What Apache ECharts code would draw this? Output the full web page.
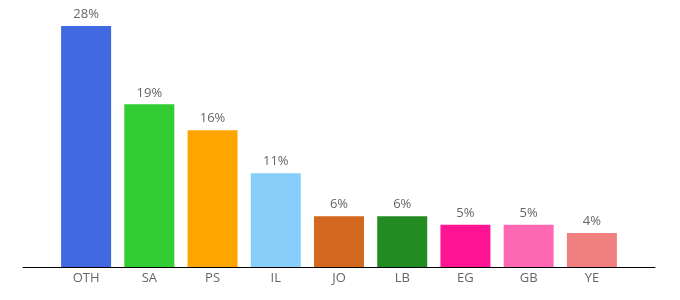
<!DOCTYPE html>
<html><head><meta charset="utf-8">
<script src="https://cdn.jsdelivr.net/npm/echarts@6/dist/echarts.min.js"></script>
<style>html,body{margin:0;padding:0;background:#fff}#c{width:680px;height:300px}</style>
</head><body><div id="c"></div>
<script>
var categories = ['OTH','SA','PS','IL','JO','LB','EG','GB','YE'];
var values = [28.0, 18.9, 15.9, 10.9, 5.9, 5.9, 4.9, 4.9, 3.95];
var colors = ['#4169E1','#32CD32','#FFA500','#87CEFA','#D2691E','#228B22','#FF1493','#FF69B4','#F08080'];

var chart = echarts.init(document.getElementById('c'), null, {renderer:'canvas'});
chart.setOption({
  animation:false,
  grid:[
    {left:54.5, right:56.5, top:26, bottom:33},
    {left:23, right:25, top:26, bottom:33}
  ],
  xAxis:[
    {type:'category', gridIndex:0, data:categories,
     axisLine:{show:false}, axisTick:{show:false},
     axisLabel:{color:'#666', fontFamily:'Open Sans', fontSize:13, margin:5}},
    {type:'value', gridIndex:1, min:0, max:1,
     axisLine:{show:true, lineStyle:{color:'#000', width:1}},
     axisTick:{show:false}, axisLabel:{show:false}, splitLine:{show:false}}
  ],
  yAxis:[
    {type:'value', gridIndex:0, min:0, max:28, show:false},
    {type:'value', gridIndex:1, min:0, max:1, show:false}
  ],
  series:[{
    type:'bar', xAxisIndex:0, yAxisIndex:0, barWidth:50,
    data: values.map(function(v,i){return {value:v, itemStyle:{color:colors[i]}};}),
    label:{show:true, position:'top', distance:5, color:'#666', fontFamily:'Open Sans', fontSize:13,
      formatter:function(p){return Math.round(p.value)+'%';}}
  }]
});
</script></body></html>
